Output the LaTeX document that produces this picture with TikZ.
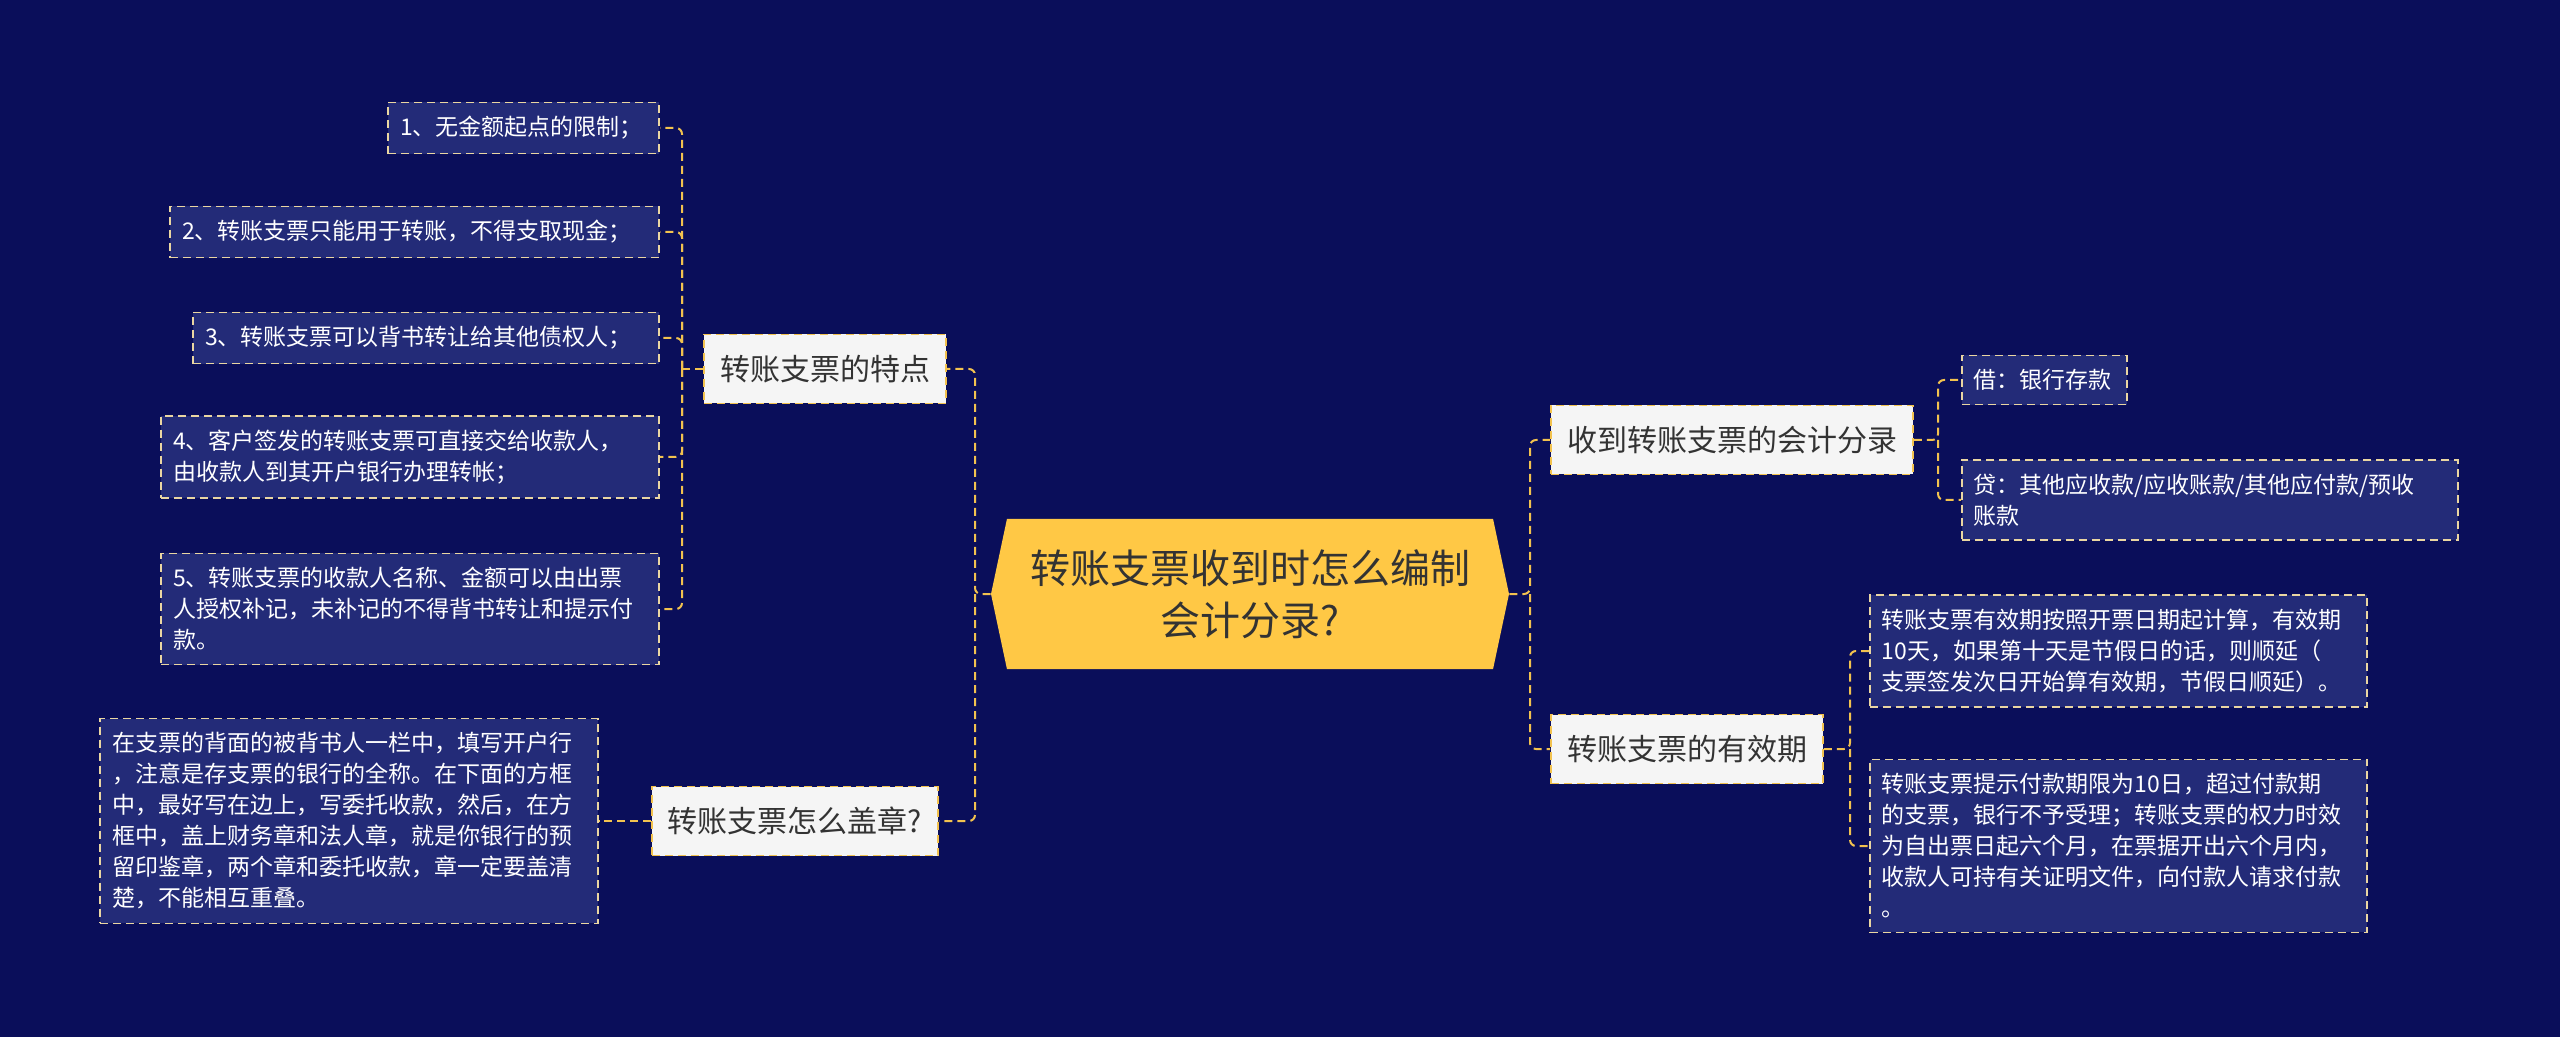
\documentclass[tikz,border=0pt]{standalone}
\usepackage{fontspec}
\newfontfamily\cjk{Noto Sans CJK SC}
\usetikzlibrary{shapes.symbols}
\definecolor{bgnavy}{HTML}{0A0E5A}
\definecolor{leafnavy}{HTML}{232B78}
\definecolor{leafedge}{HTML}{EAD6A2}
\definecolor{linegold}{HTML}{F2C24F}
\definecolor{topicwhite}{HTML}{F5F5F5}
\definecolor{maingold}{HTML}{FFC845}
\definecolor{textgray}{HTML}{333333}

\begin{document}
\begin{tikzpicture}[x=0.5pt, y=-0.5pt,
    link/.style={draw=linegold, line width=1pt, dash pattern=on 4pt off 2.5pt, rounded corners=3pt},
    leaf/.style={draw=leafedge, fill=leafnavy, line width=0.8pt, dash pattern=on 4pt off 2.5pt,
      text=white, align=left, inner xsep=6pt, inner ysep=7pt,
      font=\cjk\fontsize{11.5pt}{15.5pt}\selectfont},
    topic/.style={draw=linegold, fill=topicwhite, line width=0.8pt, dash pattern=on 4pt off 2.5pt,
      text=textgray, minimum height=34.5pt, inner xsep=8pt,
      font=\cjk\fontsize{15pt}{18pt}\selectfont},
    mainidea/.style={signal, signal to=west and east, signal pointer angle=156, fill=maingold,
      minimum width=259pt, minimum height=75pt, align=center, text=textgray,
      font=\cjk\fontsize{20pt}{26pt}\selectfont}]
  \fill[bgnavy] (0,0) rectangle (2560,1037);

  \node[mainidea] (main) at (1250,594) {转账支票收到时怎么编制\\会计分录?};
  \node[topic] (feat) at (825,369) {转账支票的特点};
  \node[topic] (seal) at (795,821) {转账支票怎么盖章?};
  \node[topic] (entry) at (1732,440) {收到转账支票的会计分录};
  \node[topic] (valid) at (1687,749) {转账支票的有效期};

  \node[leaf, anchor=east, text width=123.5pt] (f1) at (660,128) {1、无金额起点的限制；};
  \node[leaf, anchor=east, text width=232.5pt] (f2) at (660,232) {2、转账支票只能用于转账，不得支取现金；};
  \node[leaf, anchor=east, text width=221pt] (f3) at (660,338) {3、转账支票可以背书转让给其他债权人；};
  \node[leaf, anchor=east, text width=237pt] (f4) at (660,457) {4、客户签发的转账支票可直接交给收款人，\\由收款人到其开户银行办理转帐；};
  \node[leaf, anchor=east, text width=237pt] (f5) at (660,609) {5、转账支票的收款人名称、金额可以由出票\\人授权补记，未补记的不得背书转让和提示付\\款。};
  \node[leaf, anchor=east, text width=237pt] (s1) at (599,821) {在支票的背面的被背书人一栏中，填写开户行\\，注意是存支票的银行的全称。在下面的方框\\中，最好写在边上，写委托收款，然后，在方\\框中，盖上财务章和法人章，就是你银行的预\\留印鉴章，两个章和委托收款，章一定要盖清\\楚，不能相互重叠。};
  \node[leaf, anchor=west, text width=70.5pt] (e1) at (1961,380) {借：银行存款};
  \node[leaf, anchor=west, text width=236pt] (e2) at (1961,500) {贷：其他应收款/应收账款/其他应付款/预收\\账款};
  \node[leaf, anchor=west, text width=236.5pt] (v1) at (1869,651) {转账支票有效期按照开票日期起计算，有效期\\10天，如果第十天是节假日的话，则顺延（\\支票签发次日开始算有效期，节假日顺延）。};
  \node[leaf, anchor=west, text width=236.5pt] (v2) at (1869,846) {转账支票提示付款期限为10日，超过付款期\\的支票，银行不予受理；转账支票的权力时效\\为自出票日起六个月，在票据开出六个月内，\\收款人可持有关证明文件，向付款人请求付款\\。};

  \coordinate (jl) at (975,594);
  \coordinate (jr) at (1530,594);
  \coordinate (jf) at (682,369);
  \coordinate (je) at (1938,440);
  \coordinate (jv) at (1850,749);

  \draw[link] (main.west) -- (jl) |- (feat.east);
  \draw[link] (jl) |- (seal.east);
  \draw[link] (main.east) -- (jr) |- (entry.west);
  \draw[link] (jr) |- (valid.west);
  \draw[link] (feat.west) -- (jf);
  \foreach \leafname in {f1,f2,f3,f4,f5}
    \draw[link] (jf) |- (\leafname.east);
  \draw[link] (seal.west) -- (s1.east);
  \draw[link] (entry.east) -- (je) |- (e1.west);
  \draw[link] (je) |- (e2.west);
  \draw[link] (valid.east) -- (jv) |- (v1.west);
  \draw[link] (jv) |- (v2.west);
\end{tikzpicture}
\end{document}
